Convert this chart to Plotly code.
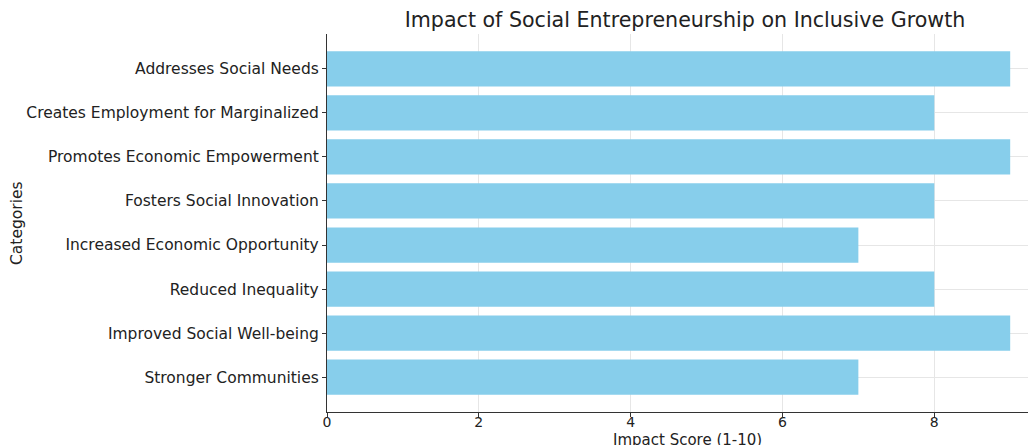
import plotly.graph_objects as go

categories = [
    "Addresses Social Needs",
    "Creates Employment for Marginalized",
    "Promotes Economic Empowerment",
    "Fosters Social Innovation",
    "Increased Economic Opportunity",
    "Reduced Inequality",
    "Improved Social Well-being",
    "Stronger Communities",
]
scores = [9, 8, 9, 8, 7, 8, 9, 7]
x_ticks = [0, 2, 4, 6, 8]

cats_rev = categories[::-1]
scores_rev = scores[::-1]

font = "DejaVu Sans"
OFF = 8  # page body margin
W, H = 1036 - OFF, 445 - OFF
L, R, T, B = 327 - OFF, 0, 34 - OFF, 33
pw = W - L - R
ph = H - T - B

fig = go.Figure(go.Bar(
    x=scores_rev, y=list(range(len(cats_rev))), orientation="h",
    marker=dict(color="#87CEEB", line=dict(width=0)), width=0.8,
))
fig.update_layout(
    width=W, height=H,
    margin=dict(l=L, r=R, t=T, b=B, autoexpand=False),
    plot_bgcolor="white", paper_bgcolor="white",
    showlegend=False,
    title=dict(text="Impact of Social Entrepreneurship on Inclusive Growth",
               x=(685 - OFF) / W, xanchor="center",
               y=1 - (20 - OFF) / H, yanchor="middle", yref="container",
               font=dict(family=font, size=20.6, color="#222")),
    font=dict(family=font, size=15.5, color="#222"),
)
fig.update_xaxes(
    range=[0, 9.34], tickvals=x_ticks, ticktext=[str(v) for v in x_ticks],
    showline=True, linecolor="#333", linewidth=1.2, ticks="outside", ticklen=4, tickcolor="#333",
    showgrid=True, gridcolor="#e6e6e6", gridwidth=1, zeroline=False,
    tickfont=dict(size=14), automargin=False, ticklabelstandoff=-7,
)
fig.update_yaxes(
    range=[-0.79, 7.79], tickvals=list(range(len(cats_rev))), ticktext=cats_rev,
    showline=True, linecolor="#333", linewidth=1.2, ticks="outside", ticklen=4, tickcolor="#333",
    showgrid=True, gridcolor="#e6e6e6", gridwidth=1, zeroline=False,
    tickfont=dict(size=15.5), automargin=False,
)
fig.add_annotation(
    text="Impact Score (1-10)", xref="paper", yref="paper",
    x=(687 - OFF - L) / pw, y=-(440 - OFF - (T + ph)) / ph, xanchor="center", yanchor="middle",
    showarrow=False, font=dict(size=15, color="#222"),
)
fig.add_annotation(
    text="Categories", xref="paper", yref="paper", textangle=-90,
    x=(17 - OFF - L) / pw, y=(H - B - (223 - OFF)) / ph, xanchor="center", yanchor="middle",
    showarrow=False, font=dict(size=15.5, color="#222"),
)
fig.write_html("out.html")
